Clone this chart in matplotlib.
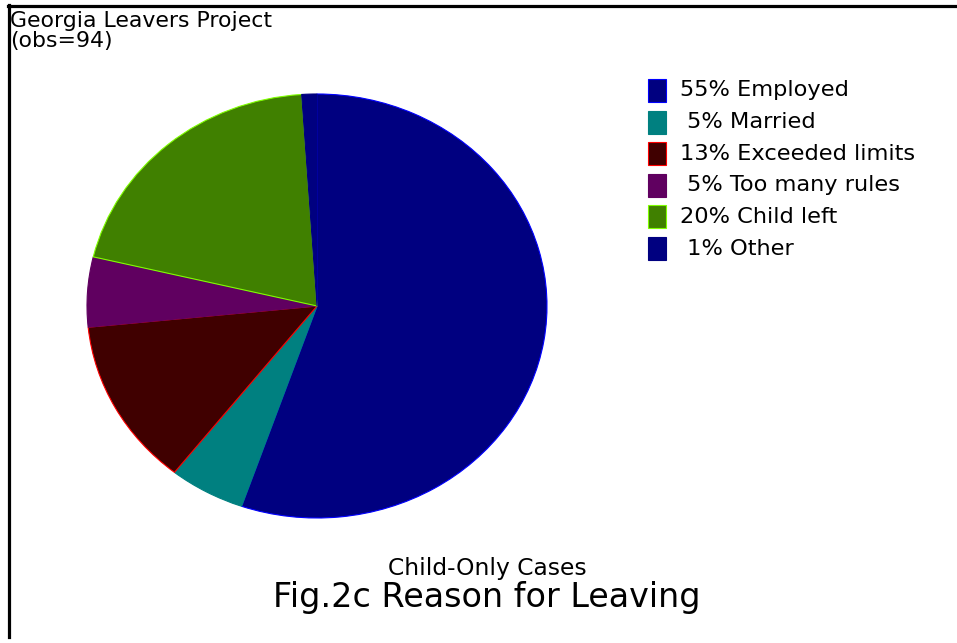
import matplotlib.pyplot as plt
from matplotlib.patches import Rectangle
from matplotlib.lines import Line2D

plt.rcParams['font.family'] = ['DejaVu Sans']

# counts out of obs=94
reasons = ['Employed', 'Married', 'Exceeded limits', 'Too many rules', 'Child left', 'Other']
counts = [52, 5, 12, 5, 19, 1]
colors = ['#000080', '#008080', '#400000', '#600060', '#408000', '#000080']
edges = ['#0000ff', '#008080', '#ff0000', '#600060', '#80ff00', '#000080']
n_obs = sum(counts)

W, H = 957, 643
fig = plt.figure(figsize=(W / 100, H / 100), dpi=100)

# pie drawn as an ellipse (stretched axes)
ax = fig.add_axes([87 / W, 1 - 518 / H, 460 / W, 424 / H])
wedges, _ = ax.pie(counts, colors=colors, startangle=90, counterclock=False,
                   wedgeprops=dict(linewidth=0.8))
for w, ec in zip(wedges, edges):
    w.set_edgecolor(ec)
ax.set_aspect('auto')
ax.set_xlim(-1, 1)
ax.set_ylim(-1, 1)
ax.axis('off')

# legend, drawn by hand
for i, (lab, c, fc, ec) in enumerate(zip(reasons, counts, colors, edges)):
    pct = round(100 * c / n_obs)
    yc = 90.5 + i * 31.6
    fig.patches.append(Rectangle((648 / W, 1 - (yc + 11.5) / H), 18 / W, 23 / H,
                                 facecolor=fc, edgecolor=ec, linewidth=0.8,
                                 transform=fig.transFigure, figure=fig))
    fig.text(680 / W, 1 - yc / H, f'{pct:2d}% {lab}', fontsize=16.2,
             va='center', ha='left')

fig.text(10 / W, 1 - 11 / H, 'Georgia Leavers Project\n(obs=94)', fontsize=15.8,
         va='top', ha='left', linespacing=0.98)

fig.text(487 / W, 1 - 569 / H, 'Child-Only Cases', fontsize=16.8, ha='center', va='center')
fig.text(487 / W, 1 - 598 / H, 'Fig.2c Reason for Leaving', fontsize=24, ha='center', va='center')

# frame: top and left lines
fig.add_artist(Line2D([8 / W, 1], [1 - 6 / H, 1 - 6 / H], color='black', linewidth=2.3,
                      transform=fig.transFigure))
fig.add_artist(Line2D([8.5 / W, 8.5 / W], [1 - 5 / H, 1 - 637 / H], color='black',
                      linewidth=2.3, transform=fig.transFigure))

fig.savefig('out.png', dpi=100)
